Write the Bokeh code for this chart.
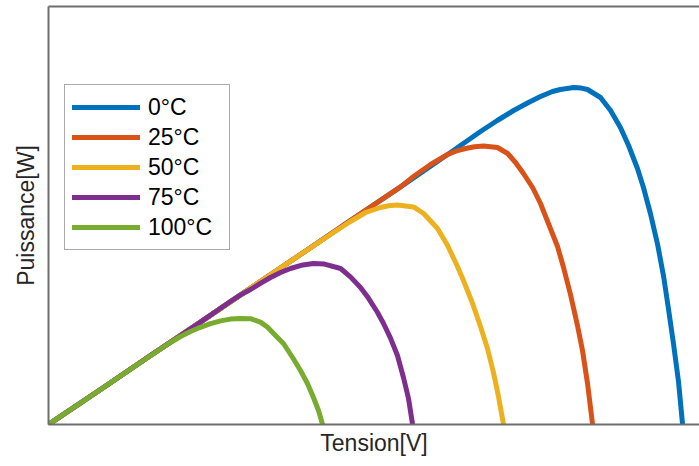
from bokeh.plotting import figure
from bokeh.models import Range1d, LinearAxis, FixedTicker
from bokeh.embed import file_html
from bokeh.resources import INLINE

# Tension [V] / Puissance [W]
labels = ["0°C", "25°C", "50°C", "75°C", "100°C"]
colors = ["#0072BD", "#D95319", "#EDB120", "#7E2F8E", "#77AC30"]

v_0 = [0, 2.17, 4.25, 6.33, 8.42, 10.5, 12.58, 14.67, 16.75, 18.0, 18.7, 19.38, 20.0, 20.5,
       21.0, 21.33, 21.88, 22.2, 22.46, 23.0, 23.42, 23.83, 24.17, 24.54, 24.79, 25.08,
       25.38, 25.63, 25.83, 26.04, 26.25, 26.42]
p_0 = [0, 8.75, 17.25, 25.6, 34.1, 42.5, 51.0, 59.4, 68.0, 73.25, 76.0, 78.5, 80.5, 82.0,
       83.25, 83.75, 84.25, 84.1, 83.75, 81.75, 78.5, 74.25, 69.75, 64.0, 59.25, 52.75,
       45.0, 37.0, 29.0, 20.25, 10.75, 0]

v_25 = [0, 2.17, 4.25, 6.33, 8.42, 10.5, 12.58, 14.67, 15.21, 15.92, 16.63, 17.0, 17.38,
        17.75, 18.13, 18.71, 19.13, 19.46, 19.79, 20.17, 20.5, 20.83, 21.21, 21.46, 21.75,
        22.04, 22.25, 22.46, 22.67]
p_25 = [0, 8.75, 17.25, 25.6, 34.1, 42.5, 51.0, 59.4, 62.0, 65.0, 67.5, 68.4, 69.0,
        69.45, 69.6, 69.25, 67.75, 65.5, 62.75, 59.25, 55.25, 50.25, 44.5, 39.25, 32.5,
        24.75, 18.5, 10.25, 0]

v_50 = [0, 2.17, 4.25, 6.33, 8.42, 10.5, 11.75, 12.58, 13.21, 13.83, 14.17, 14.54, 15.21,
        15.63, 16.21, 16.63, 17.04, 17.29, 17.67, 18.0, 18.29, 18.54, 18.75, 18.96]
p_50 = [0, 8.75, 17.25, 25.6, 34.1, 42.5, 47.5, 50.75, 53.0, 54.25, 54.7, 54.9, 54.4,
        52.75, 49.0, 44.75, 39.5, 36.0, 30.25, 24.5, 19.0, 13.0, 7.0, 0]

v_75 = [0, 2.17, 4.25, 6.33, 7.58, 8.0, 8.42, 8.83, 9.25, 9.67, 10.08, 10.6, 11.04, 11.5,
        12.17, 12.58, 13.0, 13.33, 13.71, 13.96, 14.25, 14.54, 14.79, 15.0, 15.17]
p_75 = [0, 8.75, 17.25, 25.6, 30.75, 32.4, 33.75, 35.3, 36.75, 38.0, 39.0, 39.9, 40.25, 40.1,
        39.0, 36.9, 34.25, 31.6, 28.0, 25.25, 21.6, 17.25, 11.75, 6.5, 0]

v_100 = [0, 2.17, 3.83, 5.08, 5.5, 5.92, 6.33, 6.75, 7.17, 7.58, 8.0, 8.42, 8.83, 9.13,
         9.54, 9.79, 10.17, 10.5, 10.79, 11.04, 11.25, 11.42]
p_100 = [0, 8.75, 15.5, 20.5, 22.0, 23.25, 24.3, 25.2, 25.9, 26.35, 26.5, 26.45, 25.6, 24.3,
         21.75, 20.25, 16.75, 13.5, 10.25, 6.75, 3.5, 0]

series_v = [v_0, v_25, v_50, v_75, v_100]
series_p = [p_0, p_25, p_50, p_75, p_100]

FONT = "Liberation Sans"
AX = "#6e6e6e"

p = figure(width=699, height=466, output_backend="svg", toolbar_location=None,
           x_range=Range1d(0, 27.125), y_range=Range1d(0, 104.5),
           min_border_left=48, min_border_right=0, min_border_top=6, min_border_bottom=42,
           x_axis_label="Tension[V]", y_axis_label="Puissance[W]")
p.outline_line_color = None
p.grid.visible = False
p.background_fill_color = "white"
p.border_fill_color = "white"

top = LinearAxis()
p.add_layout(top, "above")

for ax in p.axis:
    ax.ticker = FixedTicker(ticks=[])
    ax.major_tick_out = 0
    ax.major_tick_in = 0
    ax.minor_tick_out = 0
    ax.minor_tick_in = 0
    ax.major_label_text_font_size = "0px"
    ax.major_label_standoff = 0
    ax.axis_line_color = AX
    ax.axis_line_width = 2
    ax.axis_label_text_font = FONT
    ax.axis_label_text_font_size = "23px"
    ax.axis_label_text_font_style = "normal"
    ax.axis_label_text_color = "#262626"

p.xaxis[0].axis_label_standoff = 13
p.yaxis[0].axis_label_standoff = 10

for v, pw, c, lab in zip(series_v, series_p, colors, labels):
    p.line(v, pw, line_color=c, line_width=5, line_join="round", line_cap="round",
           legend_label=lab)

lg = p.legend[0]
lg.location = (16, 174)
lg.padding = 7
lg.spacing = 0
lg.margin = 0
lg.glyph_width = 68
lg.glyph_height = 30
lg.label_height = 30
lg.label_width = 74
lg.label_standoff = 8
lg.label_text_font = FONT
lg.label_text_font_size = "23px"
lg.label_text_color = "#000000"
lg.border_line_color = "#555555"
lg.border_line_width = 1.5
lg.background_fill_color = "white"
lg.background_fill_alpha = 1.0

open("out.html", "w").write(file_html(p, INLINE))
